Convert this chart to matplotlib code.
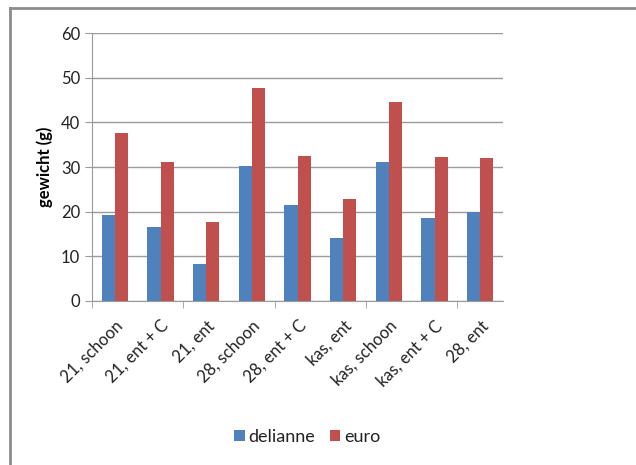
import numpy as np
import matplotlib
matplotlib.use("Agg")
import matplotlib.pyplot as plt
from matplotlib.lines import Line2D

plt.rcParams['font.family'] = ['Lato', 'DejaVu Sans']
plt.rcParams['text.color'] = '#222222'

categories = ['21, schoon', '21, ent + C', '21, ent', '28, schoon', '28, ent + C',
              'kas, ent', 'kas, schoon', 'kas, ent + C', '28, ent']
delianne = [19.2, 16.6, 8.2, 30.3, 21.5, 14.0, 31.1, 18.5, 20.0]
euro = [37.6, 31.1, 17.7, 47.8, 32.4, 22.9, 44.6, 32.2, 32.0]

fig = plt.figure(figsize=(6.36, 4.65), dpi=100)
ax = fig.add_axes([0.1447, 0.3527, 0.6463, 0.5763])

x = np.arange(len(categories))
w = 0.29
ax.bar(x - w / 2, delianne, w, color='#4F81BD', label='delianne', zorder=3)
ax.bar(x + w / 2, euro, w, color='#C0504D', label='euro', zorder=3)

ax.set_xlim(-0.5, len(categories) - 0.5)
ax.set_ylim(0, 60)
ax.set_yticks(range(0, 61, 10))
ax.yaxis.grid(True, color='#9a9a9a', linewidth=1, zorder=0)

ax.set_xticks(x)
ax.set_xticklabels(categories, rotation=45, ha='right', rotation_mode='anchor',
                   fontsize=12, color='#222222')
ax.tick_params(axis='x', length=0, pad=12)
ax.set_xticks(np.arange(-0.5, len(categories), 2), minor=True)
ax.tick_params(axis='x', which='minor', length=5, color='#9a9a9a')
ax.tick_params(axis='y', length=5, color='#9a9a9a', labelsize=12, labelcolor='#222222')

for s in ['top', 'right']:
    ax.spines[s].set_visible(False)
for s in ['left', 'bottom']:
    ax.spines[s].set_color('#9a9a9a')

ax.set_ylabel('gewicht (g)', fontweight='bold', fontsize=12, labelpad=6)

fig.legend(loc='center', bbox_to_anchor=(0.483, 0.06), ncol=2, frameon=False,
           fontsize=13, handlelength=0.6, handleheight=0.6, handletextpad=0.2,
           columnspacing=0.8)

# outer chart frame
fig.add_artist(Line2D([10 / 636, 1], [1 - 8 / 465, 1 - 8 / 465], color='#8c8c8c', lw=2))
fig.add_artist(Line2D([10 / 636, 10 / 636], [0, 1 - 8 / 465], color='#8c8c8c', lw=2))

fig.savefig('out.png', dpi=100)
